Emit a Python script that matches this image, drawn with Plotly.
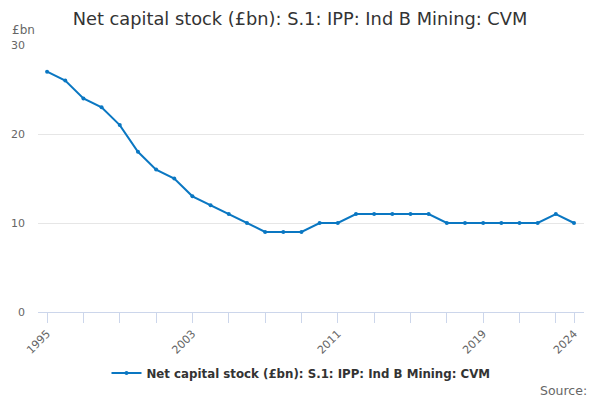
import plotly.graph_objects as go

# --- DATA ---
years = list(range(1995, 2025))
values = [27, 26, 24, 23, 21, 18, 16, 15, 13, 12, 11, 10, 9, 9, 9, 10, 10,
          11, 11, 11, 11, 11, 10, 10, 10, 10, 10, 10, 11, 10]
tick_years = list(range(1995, 2024, 2)) + [2024]
labelled = [1995, 2003, 2011, 2019, 2024]
series_name = "Net capital stock (£bn): S.1: IPP: Ind B Mining: CVM"
# ------------

FONT = "DejaVu Sans"
LINE = "#0a77c2"
# the page body has an 8px margin, so the figure is drawn 8px smaller
W, H = 592, 392

fig = go.Figure()
fig.add_trace(go.Scatter(
    x=years, y=values, mode="lines+markers", name=series_name,
    line=dict(color=LINE, width=2),
    marker=dict(color=LINE, size=4),
))

fig.update_layout(
    width=W, height=H,
    margin=dict(l=30, r=16, t=37, b=88, autoexpand=False),
    paper_bgcolor="white", plot_bgcolor="white",
    font=dict(family=FONT, color="#666666", size=11),
    title=dict(text="Net capital stock (£bn): S.1: IPP: Ind B Mining: CVM",
               x=292 / W, xanchor="center", xref="container",
               y=1 - 11 / H, yref="container", yanchor="middle",
               font=dict(family=FONT, size=17.8, color="#333333")),
    showlegend=True,
    legend=dict(orientation="h", xref="container", x=293 / W, xanchor="center",
                yref="container", y=1 - 365 / H, yanchor="middle",
                font=dict(family=FONT, size=11.8, color="#333333", weight="bold")),
    xaxis=dict(
        range=[1994.5, 2024.55], automargin=False,
        tickmode="array", tickvals=tick_years,
        ticktext=[str(y) if y in labelled else "" for y in tick_years],
        tickangle=-45, ticks="outside", ticklen=10, tickcolor="#ccd6eb",
        showline=True, linecolor="#ccd6eb", linewidth=1,
        showgrid=False, zeroline=False,
        tickfont=dict(size=11, color="#666666"),
    ),
    yaxis=dict(
        range=[0, 30], tickvals=[0, 10, 20, 30], automargin=False,
        showgrid=True, gridcolor="#e6e6e6", zeroline=False,
        showline=False, tickfont=dict(size=11, color="#666666"),
        ticklabelstandoff=12,
    ),
    annotations=[
        dict(text="£bn", xref="paper", yref="paper", x=-28 / 546, y=1 + 15 / 267,
             xanchor="left", yanchor="middle", showarrow=False,
             font=dict(family=FONT, size=12, color="#666666")),
        dict(text="Source:", xref="paper", yref="paper", x=1 + 5 / 546, y=-78 / 267,
             xanchor="right", yanchor="middle", showarrow=False,
             font=dict(family=FONT, size=12.5, color="#666666")),
    ],
)

fig.write_html("out.html")
